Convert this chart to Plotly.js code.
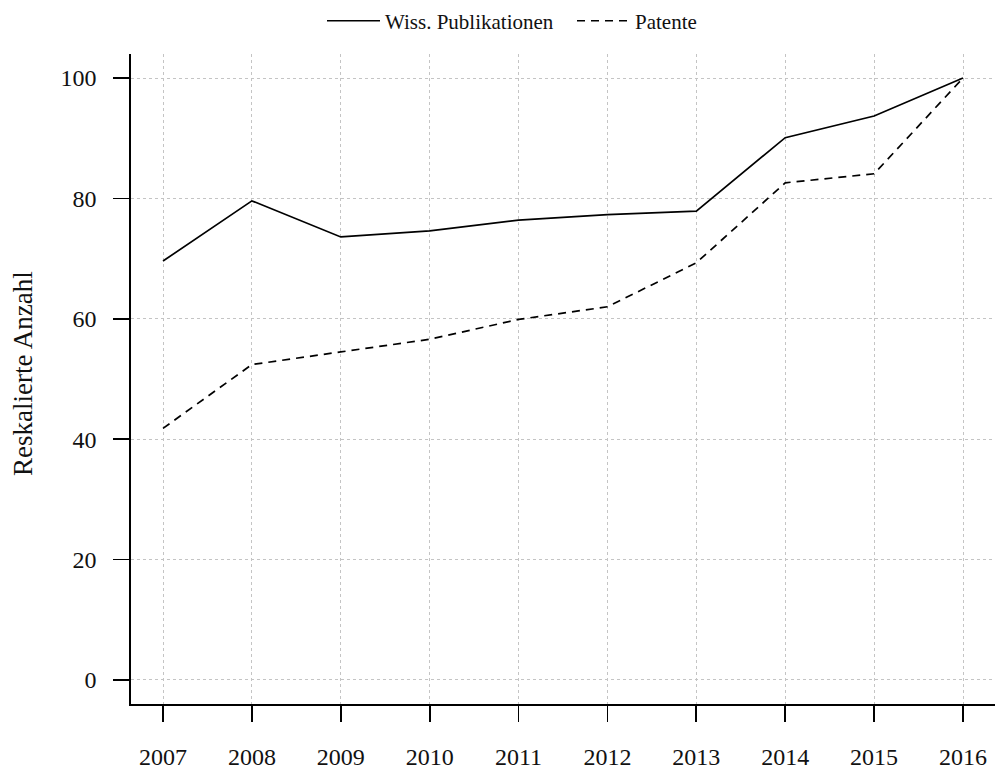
<!DOCTYPE html>
<html>
<head>
<meta charset="utf-8">
<script src="https://cdn.plot.ly/plotly-3.0.1.min.js"></script>
<style>html,body{margin:0;padding:0;background:#fff;}#chart{width:996px;height:768px;}</style>
</head>
<body>
<div id="chart"></div>
<script>
const years = [2007, 2008, 2009, 2010, 2011, 2012, 2013, 2014, 2015, 2016];
const publikationen = [69.6, 79.6, 73.6, 74.6, 76.4, 77.3, 77.9, 90.1, 93.7, 100];
const patente = [41.8, 52.4, 54.5, 56.6, 59.9, 62.0, 69.3, 82.6, 84.1, 100];
const yTicks = [0, 20, 40, 60, 80, 100];
const seriesNames = ["Wiss. Publikationen", "Patente"];
const yTitle = "Reskalierte Anzahl";

const FONT = "Liberation Serif, Times New Roman, serif";
const traces = [
  {x: years, y: publikationen, name: seriesNames[0], type: "scatter", mode: "lines",
   line: {color: "#000", width: 1.7}},
  {x: years, y: patente, name: seriesNames[1], type: "scatter", mode: "lines",
   line: {color: "#000", width: 1.7, dash: "8px,6px"}}
];
const layout = {
  width: 996, height: 768,
  margin: {l: 131, r: 1, t: 52, b: 64},
  paper_bgcolor: "#fff", plot_bgcolor: "#fff",
  font: {family: FONT, color: "#111", size: 24},
  showlegend: true,
  legend: {orientation: "h", x: (322 - 131) / 864, xanchor: "left", y: 1.0506, yanchor: "middle",
    itemwidth: 53, entrywidth: 182,
    font: {family: FONT, size: 21, color: "#111"}, bgcolor: "rgba(0,0,0,0)"},
  xaxis: {range: [2006.64, 2016.36], tickmode: "array", tickvals: years, ticktext: years.map(String),
    showline: true, linecolor: "#000", linewidth: 1.7, mirror: false,
    ticks: "outside", ticklen: 16, tickwidth: 1.7, tickcolor: "#000",
    showgrid: true, gridcolor: "#c4c4c4", gridwidth: 1, griddash: "dot",
    zeroline: false, ticklabelstandoff: 14, automargin: false,
    tickfont: {family: FONT, size: 24, color: "#111"}},
  yaxis: {range: [-4, 104], tickmode: "array", tickvals: yTicks, ticktext: yTicks.map(String),
    showline: true, linecolor: "#000", linewidth: 1.7,
    ticks: "outside", ticklen: 16, tickwidth: 1.7, tickcolor: "#000",
    showgrid: true, gridcolor: "#c4c4c4", gridwidth: 1, griddash: "dot",
    zeroline: false, ticklabelstandoff: 12, automargin: false,
    tickfont: {family: FONT, size: 24, color: "#111"}},
  annotations: [{text: yTitle, xref: "paper", yref: "paper", x: (23 - 131) / 864, y: (704 - 373) / 652,
    xanchor: "center", yanchor: "middle", textangle: -90, showarrow: false,
    font: {family: FONT, size: 27, color: "#111"}}]
};
Plotly.newPlot("chart", traces, layout, {displayModeBar: false, staticPlot: true});
</script>
</body>
</html>
